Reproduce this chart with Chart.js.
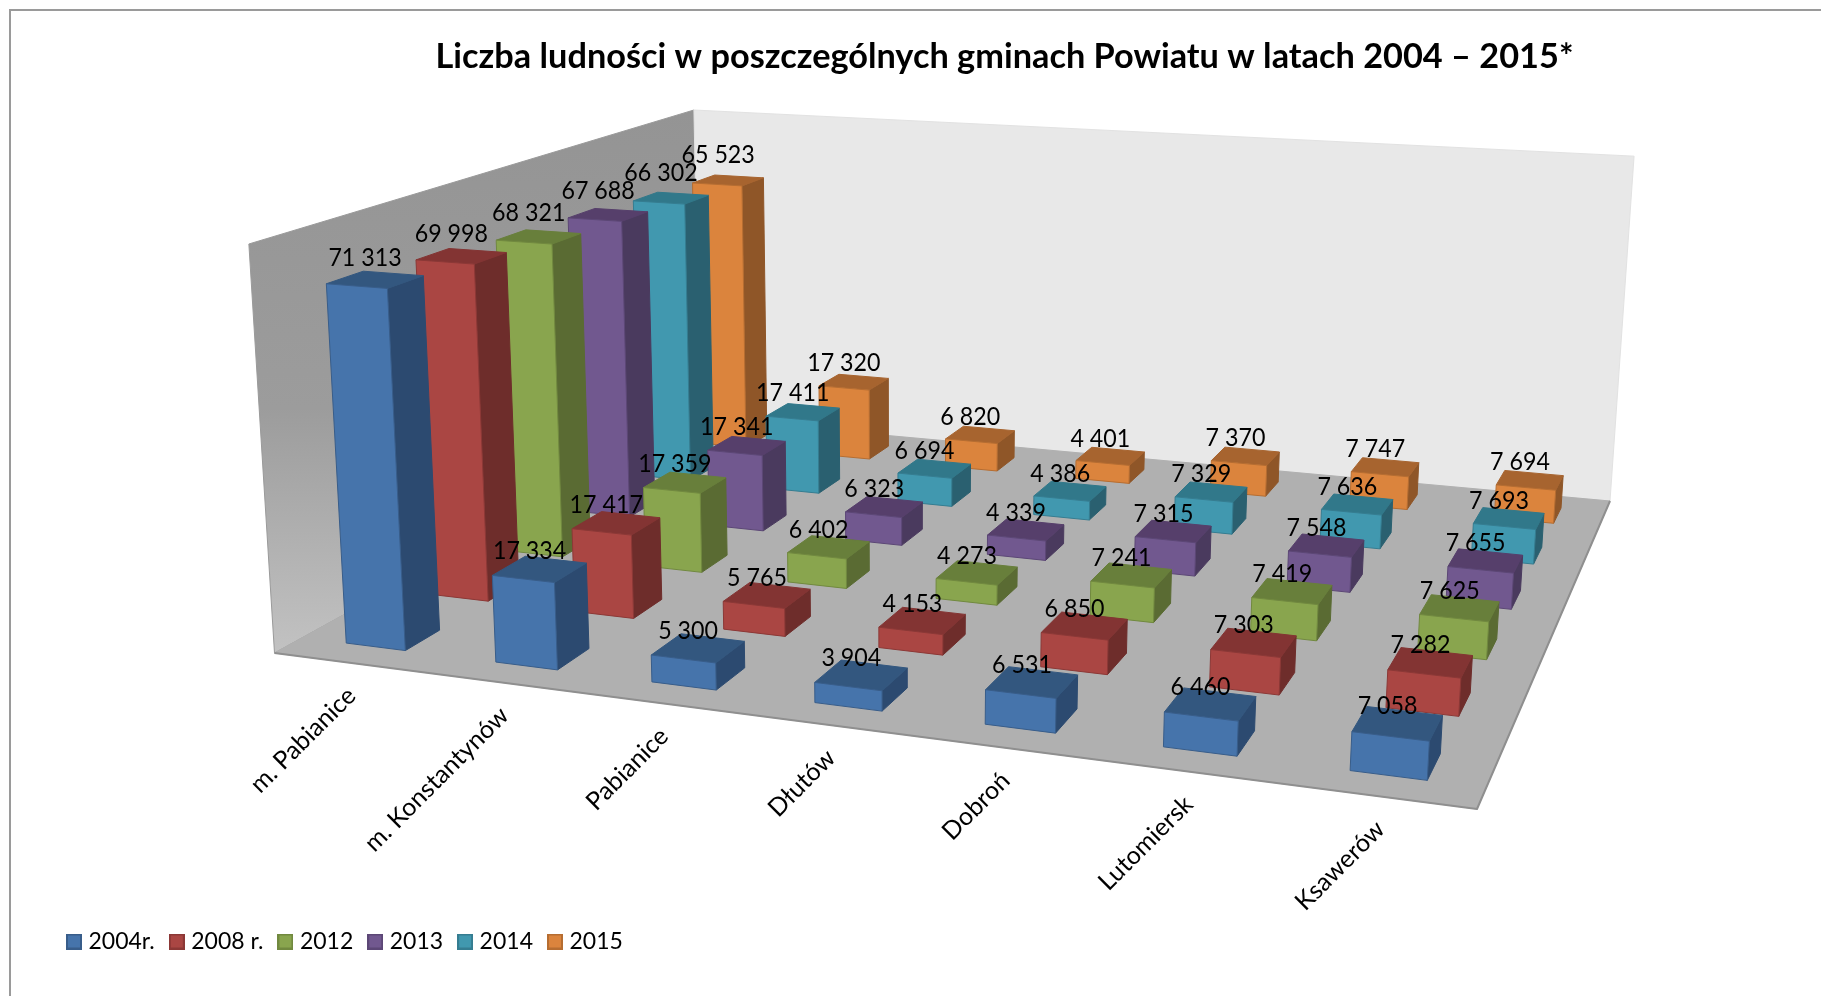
<!DOCTYPE html>
<html lang="pl">
<head>
<meta charset="utf-8">
<title>Liczba ludności</title>
<script src="https://cdn.jsdelivr.net/npm/chart.js@4/dist/chart.umd.js"></script>
<style>html,body{margin:0;padding:0;background:#fff}canvas{display:block}</style>
</head>
<body>
<canvas id="c" width="1821" height="996"></canvas>
<script>
// ---------- data ----------
const categories = ['m. Pabianice','m. Konstantynów','Pabianice','Dłutów','Dobroń','Lutomiersk','Ksawerów'];
const seriesNames = ['2004r.','2008 r.','2012','2013','2014','2015'];
const s2004 = [71313,17334,5300,3904,6531,6460,7058];
const s2008 = [69998,17417,5765,4153,6850,7303,7282];
const s2012 = [68321,17359,6402,4273,7241,7419,7625];
const s2013 = [67688,17341,6323,4339,7315,7548,7655];
const s2014 = [66302,17411,6694,4386,7329,7636,7693];
const s2015 = [65523,17320,6820,4401,7370,7747,7694];
const seriesValues = [s2004,s2008,s2012,s2013,s2014,s2015];
const titleText = 'Liczba ludności w poszczególnych gminach Powiatu w latach 2004 – 2015*';

// ---------- style ----------
const FRONT = ['#4674AB','#AA4643','#89A54E','#71588F','#4198AF','#DB843D'];
const TOP   = ['#33577F','#833433','#687F3B','#563F6B','#31788A','#A7642F'];
const SIDE  = ['#2C4A70','#6E2D2B','#5A6B33','#4A3A5E','#2A6070','#8F5628'];
const EDGE  = ['#385D8A','#8C3836','#71893F','#5C4776','#357D91','#B66D31'];
const FONT = 'Lato, "Open Sans", sans-serif';
const BAR_FRACTION = 0.40, DEPTH_FRACTION = 0.4;
// camera: where the corners of the plot box land on the page
const FLOOR = [[274.5,653],[1477,809],[1610,501],[700,418.5]]; // front-left, front-right, back-right, back-left
const WALL_TOPS = [[0,0,246,243],[0,1,697,110],[1,1,1633,157]]; // u, v at top of the value axis -> page

function solve3(A,b){
  const m=A.map((r,i)=>[...r,b[i]]);
  for(let i=0;i<3;i++){
    let p=i; for(let k=i+1;k<3;k++) if(Math.abs(m[k][i])>Math.abs(m[p][i])) p=k;
    [m[i],m[p]]=[m[p],m[i]];
    for(let k=0;k<3;k++) if(k!==i){const f=m[k][i]/m[i][i]; for(let j=i;j<4;j++) m[k][j]-=f*m[i][j];}
  }
  return m.map((r,i)=>r[3]/r[i]);
}
function buildCamera(){
  const [[x0,y0],[x1,y1],[x2,y2],[x3,y3]]=FLOOR;
  const dx1=x1-x2,dy1=y1-y2,dx2=x3-x2,dy2=y3-y2,sx=x0-x1+x2-x3,sy=y0-y1+y2-y3;
  const det=dx1*dy2-dx2*dy1;
  const g=(sx*dy2-dx2*sy)/det,h=(dx1*sy-sx*dy1)/det;
  const a=x1-x0+g*x1,b=x3-x0+h*x3,c=x0,d=y1-y0+g*y1,e=y3-y0+h*y3,f=y0;
  const rows=[],rhs=[];
  WALL_TOPS.forEach(([u,v,X,Y])=>{
    const w=g*u+h*v+1;
    rows.push([1,0,-X]); rhs.push(X*w-(a*u+b*v+c));
    rows.push([0,1,-Y]); rhs.push(Y*w-(d*u+e*v+f));
  });
  const N=[0,1,2].map(i=>[0,1,2].map(j=>rows.reduce((s,r)=>s+r[i]*r[j],0)));
  const R=[0,1,2].map(i=>rows.reduce((s,r,k)=>s+r[i]*rhs[k],0));
  const [cx,cy,cw]=solve3(N,R);
  return (u,v,z)=>{
    const w=g*u+h*v+1+cw*z;
    return [(a*u+b*v+c+cx*z)/w,(d*u+e*v+f+cy*z)/w];
  };
}
const project = buildCamera();

function poly(ctx,pts,fill,stroke){
  ctx.beginPath();
  pts.forEach((p,i)=>i?ctx.lineTo(p[0],p[1]):ctx.moveTo(p[0],p[1]));
  ctx.closePath();
  ctx.fillStyle=fill; ctx.fill();
  ctx.lineWidth=1; ctx.lineJoin='round'; ctx.strokeStyle=stroke||fill; ctx.stroke();
}

// Box geometry
function boxOf(chart,dsIndex,i,value){
  const xs=chart.scales.x, ys=chart.scales.y, ds=chart.scales.depth;
  const nu=p=>(p-xs.left)/xs.width, nv=p=>(p-ds.left)/ds.width;
  const u0=nu(xs.getPixelForValue(i-BAR_FRACTION/2)), u1=nu(xs.getPixelForValue(i+BAR_FRACTION/2));
  const v0=nv(ds.getPixelForValue(dsIndex-DEPTH_FRACTION/2)), v1=nv(ds.getPixelForValue(dsIndex+DEPTH_FRACTION/2));
  const z=(ys.bottom-ys.getPixelForValue(value))/ys.height;
  return {
    z, v:(v0+v1)/2,
    f0:project(u0,v0,0),f1:project(u1,v0,0),b1:project(u1,v1,0),
    t0:project(u0,v0,z),t1:project(u1,v0,z),t2:project(u1,v1,z),t3:project(u0,v1,z)
  };
}

class Bar3DController extends Chart.BarController {
  update(mode){
    super.update(mode);
    const meta=this._cachedMeta;
    meta.data.forEach((el,i)=>{
      const b=boxOf(this.chart,this.index,i,meta._parsed[i].y);
      el.x=(b.t0[0]+b.t1[0])/2; el.y=(b.t0[1]+b.t1[1])/2;
      el.base=(b.f0[1]+b.f1[1])/2; el.width=b.t1[0]-b.t0[0]; el.height=el.base-el.y;
    });
  }
  draw(){
    const ctx=this.chart.ctx, meta=this._cachedMeta, k=this.index;
    meta.data.forEach((el,i)=>{
      const b=boxOf(this.chart,k,i,meta._parsed[i].y);
      poly(ctx,[b.t1,b.f1,b.b1,b.t2],SIDE[k]);
      poly(ctx,[b.t0,b.t1,b.t2,b.t3],TOP[k]);
      poly(ctx,[b.t0,b.t1,b.f1,b.f0],FRONT[k],EDGE[k]);
    });
  }
}
Bar3DController.id='bar3d';
Bar3DController.defaults=Chart.BarController.defaults;
Chart.register(Bar3DController);

// legend swatches: square with a darker inset edge
function swatch(k){
  const c=document.createElement('canvas'); c.width=16; c.height=16;
  const x=c.getContext('2d');
  x.fillStyle=FRONT[k]; x.fillRect(0,0,16,16);
  x.strokeStyle=EDGE[k]; x.lineWidth=2; x.strokeRect(1,1,14,14);
  return c;
}
const SWATCHES = seriesNames.map((n,k)=>swatch(k));

const framePlugin={
  id:'frame',
  beforeDraw(chart){
    const ctx=chart.ctx; ctx.save();
    ctx.fillStyle='#fff'; ctx.fillRect(0,0,chart.width,chart.height);
    ctx.strokeStyle='#9a9a9a'; ctx.lineWidth=2;
    ctx.beginPath(); ctx.moveTo(10,chart.height); ctx.lineTo(10,10); ctx.lineTo(chart.width,10); ctx.stroke();
    ctx.restore();
  },
  afterLayout(chart){
    // title sits over the plot box rather than over the page centre
    const shift=68; chart.titleBlock.left+=shift; chart.titleBlock.right+=shift;
  }
};
const wallsPlugin={
  id:'walls',
  beforeDatasetsDraw(chart){
    const ctx=chart.ctx; ctx.save();
    const fl=project(0,0,0),bl=project(0,1,0),br=project(1,1,0),fr=project(1,0,0);
    const tf=project(0,0,1),tb=project(0,1,1),tr=project(1,1,1);
    const grad=ctx.createLinearGradient(0,tb[1],0,fl[1]);
    grad.addColorStop(0,'#949494'); grad.addColorStop(.55,'#9c9c9c'); grad.addColorStop(1,'#c2c2c2');
    poly(ctx,[fl,tf,tb,bl],grad,'#9a9a9a');
    poly(ctx,[bl,tb,tr,br],'#e8e8e8','#e2e2e2');
    poly(ctx,[fl,bl,br,fr],'#b0b0b0','#b0b0b0');
    ctx.strokeStyle='#8f8f8f'; ctx.lineWidth=2;
    ctx.beginPath(); ctx.moveTo(fl[0],fl[1]); ctx.lineTo(fr[0],fr[1]); ctx.lineTo(br[0],br[1]); ctx.stroke();
    ctx.restore();
  },
  afterDatasetsDraw(chart){
    const ctx=chart.ctx, xs=chart.scales.x; ctx.save();
    ctx.fillStyle='#000'; ctx.textAlign='center'; ctx.textBaseline='middle';
    ctx.font='25px '+FONT;
    const fmt=v=>String(v).replace(/\B(?=(\d{3})+$)/g,' ');
    chart.data.datasets.forEach((d,k)=>{
      d.data.forEach((v,i)=>{
        const b=boxOf(chart,k,i,v);
        const cx=(b.t0[0]+b.t1[0]+b.t2[0]+b.t3[0])/4, cy=(b.t0[1]+b.t1[1]+b.t2[1]+b.t3[1])/4;
        ctx.save(); ctx.translate(cx-10,cy-17-5*b.z-6.3*b.z*b.v); ctx.scale(.93,1);
        ctx.fillText(fmt(v),0,0); ctx.restore();
      });
    });
    // category axis labels along the front edge of the floor
    ctx.textAlign='right'; ctx.font='25px '+FONT;
    xs.getLabels().forEach((lab,i)=>{
      const u=(xs.getPixelForValue(i)-xs.left)/xs.width;
      const p=project(u,0,0);
      ctx.save(); ctx.translate(p[0]+3,p[1]+29); ctx.rotate(-Math.PI/4);
      ctx.fillText(lab,0,0); ctx.restore();
    });
    ctx.restore();
  }
};

new Chart(document.getElementById('c'),{
  type:'bar3d',
  data:{
    labels:categories,
    datasets:seriesNames.map((name,k)=>({
      label:name,data:seriesValues[k],
      backgroundColor:FRONT[k],borderColor:EDGE[k],borderWidth:2
    }))
  },
  plugins:[framePlugin,wallsPlugin],
  options:{
    responsive:false,animation:false,
    layout:{padding:{left:52,right:0,top:36,bottom:33}},
    scales:{
      x:{type:'category',display:false,offset:true,grid:{display:false}},
      depth:{type:'category',axis:'x',display:false,offset:true,labels:seriesNames,grid:{display:false}},
      y:{type:'linear',display:false,min:0,max:80000}
    },
    plugins:{
      title:{display:true,text:titleText,color:'#000',font:{family:FONT,size:34.3,weight:'bold'},padding:{top:0,bottom:10}},
      legend:{display:true,position:'bottom',align:'start',
        labels:{usePointStyle:true,boxWidth:6,boxHeight:16,padding:19,color:'#000',font:{family:FONT,size:23},
          generateLabels(chart){
            return Chart.defaults.plugins.legend.labels.generateLabels(chart).map((it,k)=>Object.assign(it,{pointStyle:SWATCHES[k]}));
          }}},
      tooltip:{enabled:false}
    }
  }
});
</script>
</body>
</html>
